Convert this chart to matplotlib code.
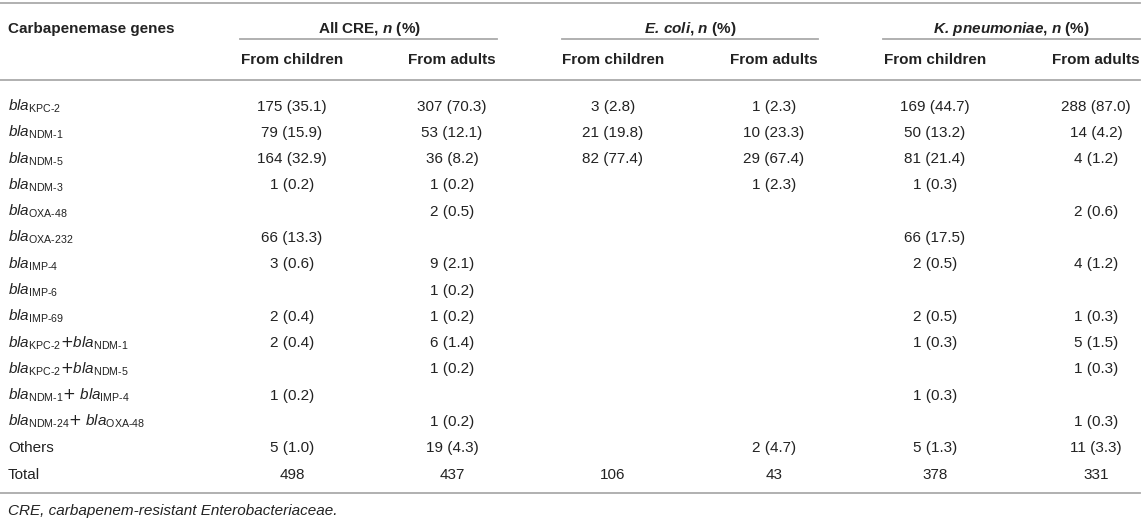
import matplotlib
matplotlib.use('Agg')
import matplotlib.pyplot as plt

plt.rcParams['font.family'] = ['Liberation Sans', 'DejaVu Sans']
plt.rcParams['mathtext.fontset'] = 'custom'
plt.rcParams['mathtext.rm'] = 'Liberation Sans'
plt.rcParams['mathtext.it'] = 'Liberation Sans:italic'
plt.rcParams['mathtext.bf'] = 'Liberation Sans:bold'
plt.rcParams['mathtext.bfit'] = 'Liberation Sans:bold:italic'
plt.rcParams['mathtext.sf'] = 'DejaVu Sans'

# === TABLE CONTENT === #
row_labels = [
    r'$\mathit{bla}_\text{KPC-2}$',
    r'$\mathit{bla}_\text{NDM-1}$',
    r'$\mathit{bla}_\text{NDM-5}$',
    r'$\mathit{bla}_\text{NDM-3}$',
    r'$\mathit{bla}_\text{OXA-48}$',
    r'$\mathit{bla}_\text{OXA-232}$',
    r'$\mathit{bla}_\text{IMP-4}$',
    r'$\mathit{bla}_\text{IMP-6}$',
    r'$\mathit{bla}_\text{IMP-69}$',
    r'$\mathit{bla}_\text{KPC-2}\mathsf{+}\mathit{bla}_\text{NDM-1}$',
    r'$\mathit{bla}_\text{KPC-2}\mathsf{+}\mathit{bla}_\text{NDM-5}$',
    r'$\mathit{bla}_\text{NDM-1}\mathsf{+}$ $\mathit{bla}_\text{IMP-4}$',
    r'$\mathit{bla}_\text{NDM-24}\mathsf{+}$ $\mathit{bla}_\text{OXA-48}$',
    'Others',
    'Total',
]

cre_children = ['175 (35.1)', '79 (15.9)', '164 (32.9)', '1 (0.2)', '', '66 (13.3)', '3 (0.6)', '',
                '2 (0.4)', '2 (0.4)', '', '1 (0.2)', '', '5 (1.0)', '498']
cre_adults = ['307 (70.3)', '53 (12.1)', '36 (8.2)', '1 (0.2)', '2 (0.5)', '', '9 (2.1)', '1 (0.2)',
              '1 (0.2)', '6 (1.4)', '1 (0.2)', '', '1 (0.2)', '19 (4.3)', '437']
ecoli_children = ['3 (2.8)', '21 (19.8)', '82 (77.4)', '', '', '', '', '',
                  '', '', '', '', '', '', '106']
ecoli_adults = ['1 (2.3)', '10 (23.3)', '29 (67.4)', '1 (2.3)', '', '', '', '',
                '', '', '', '', '', '2 (4.7)', '43']
kp_children = ['169 (44.7)', '50 (13.2)', '81 (21.4)', '1 (0.3)', '', '66 (17.5)', '2 (0.5)', '',
               '2 (0.5)', '1 (0.3)', '', '1 (0.3)', '', '5 (1.3)', '378']
kp_adults = ['288 (87.0)', '14 (4.2)', '4 (1.2)', '', '2 (0.6)', '', '4 (1.2)', '',
             '1 (0.3)', '5 (1.5)', '1 (0.3)', '', '1 (0.3)', '11 (3.3)', '331']

group_titles = [r'All CRE, $\mathbfit{n}$ (%)',
                r'$\mathbfit{E.\,coli}$, $\mathbfit{n}$ (%)',
                r'$\mathbfit{K.\,pneumoniae}$, $\mathbfit{n}$ (%)']
sub_titles = ['From children', 'From adults']
footnote = 'CRE, carbapenem-resistant Enterobacteriaceae.'

columns = [cre_children, cre_adults, ecoli_children, ecoli_adults, kp_children, kp_adults]

# layout (pixel coords, y downwards)
W, H = 1143, 521
col_x = [292, 452, 613, 774, 935, 1096]
group_spans = [(240, 497), (562, 818), (883, 1140)]
group_x = [369, 690, 1011]
row_y0 = 105
row_dy = 26.3
base = 5.5   # centre -> baseline offset
txt = '#222222'
rule = '#aaaaaa'
fs = 11

fig = plt.figure(figsize=(W / 100, H / 100), dpi=100)
ax = fig.add_axes([0, 0, 1, 1])
ax.set_xlim(0, W)
ax.set_ylim(H, 0)
ax.axis('off')

# rules
ax.plot([0, 1140], [3, 3], color=rule, lw=1.3)
ax.plot([0, 1140], [80, 80], color=rule, lw=1.3)
for a, b in group_spans:
    ax.plot([a, b], [39, 39], color=rule, lw=1.3)
bottom = row_y0 + row_dy * (len(row_labels) - 1) + 20
ax.plot([0, 1140], [bottom, bottom], color=rule, lw=1.3)

# header
ax.text(8, 27 + base, 'Carbapenemase genes', fontsize=fs, fontweight='bold', color=txt, va='baseline')
for gx, title in zip(group_x, group_titles):
    ax.text(gx, 27 + base, title, fontsize=fs, fontweight='bold', color=txt, ha='center', va='baseline')
for i, cx in enumerate(col_x):
    ax.text(cx, 58 + base, sub_titles[i % 2], fontsize=fs, fontweight='bold', color=txt,
            ha='center', va='baseline')

# body
for r, lab in enumerate(row_labels):
    y = row_y0 + r * row_dy + base
    ax.text(8, y, lab, fontsize=fs, color=txt, va='baseline')
    for cx, col in zip(col_x, columns):
        if col[r]:
            ax.text(cx, y, col[r], fontsize=fs, color=txt, ha='center', va='baseline')

ax.text(8, bottom + 16 + base, footnote, fontsize=fs, style='italic', color=txt, va='baseline')

fig.savefig('out.png', dpi=100)
